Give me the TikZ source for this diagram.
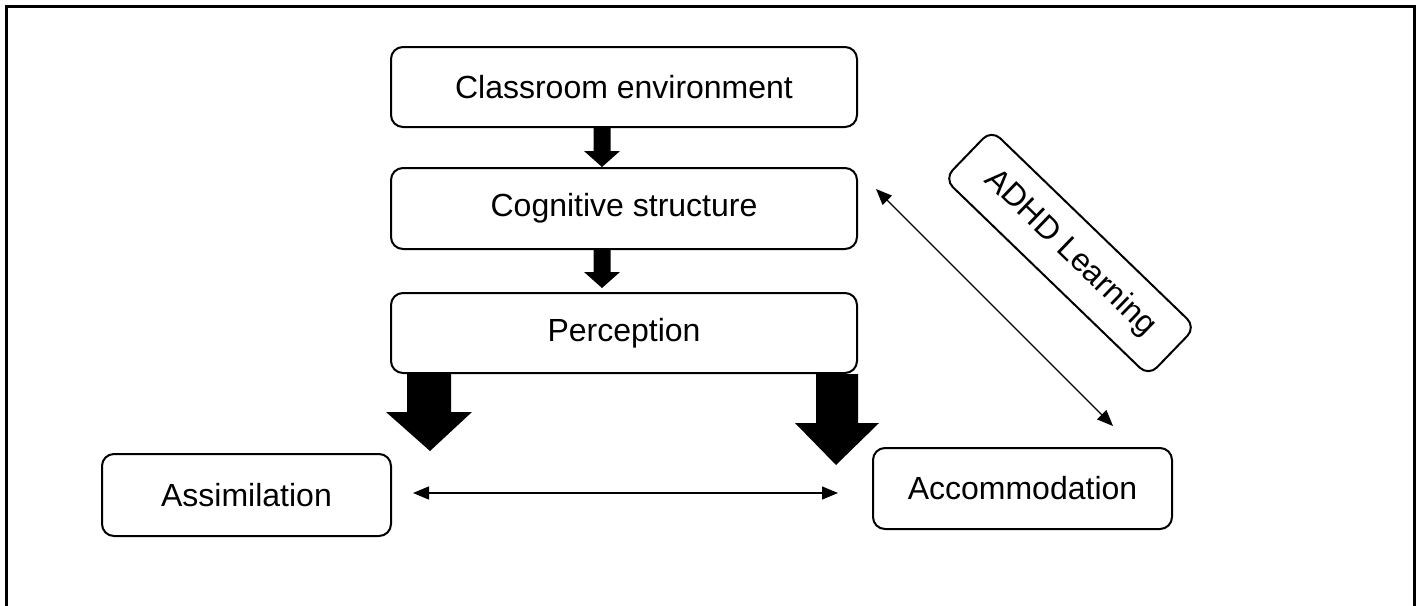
\documentclass[tikz,border=0pt]{standalone}
\usepackage{fontspec}
\setmainfont{Liberation Sans}
\usetikzlibrary{arrows.meta,calc}

% Filled block arrow: #1 start (middle of the shaft top), #2 tip,
% #3 half shaft width, #4 half head width, #5 head length
\newcommand\blockarrow[5]{%
  \fill let \p1=(#1), \p2=(#2) in
    (\x1-#3,\y1) -- (\x1+#3,\y1) -- (\x1+#3,\y2+#5) -- (\x1+#4,\y2+#5)
    -- (\x2,\y2) -- (\x1-#4,\y2+#5) -- (\x1-#3,\y2+#5) -- cycle;}

\tikzset{
  stagebox/.style={draw, line width=2pt, rounded corners=12pt, fill=white,
    align=center, font=\fontsize{32}{38}\selectfont, inner sep=0pt},
  linkarrow/.style={line width=1.2pt, {Triangle[length=16pt,width=13pt]}-{Triangle[length=16pt,width=13pt]}},
}

\begin{document}
\begin{tikzpicture}[x=1pt,y=-1pt]
  \useasboundingbox (0,0) rectangle (1421,605);
  % open frame
  \draw[line width=3pt] (6.5,620) -- (6.5,6.5) -- (1414.5,6.5) -- (1414.5,620);

  % stages
  \node[stagebox, minimum width=466pt, minimum height=80pt] (cls) at (624,87) {Classroom environment};
  \node[stagebox, minimum width=466pt, minimum height=81pt] (cog) at (624,208.5) {Cognitive structure};
  \node[stagebox, minimum width=466pt, minimum height=80pt] (per) at (624,333) {Perception};
  \node[stagebox, minimum width=289pt, minimum height=82pt] (asm) at (246.5,495) {Assimilation};
  \node[stagebox, minimum width=299pt, minimum height=81pt] (acc) at (1022.5,488.5) {Accommodation};
  \node[stagebox, minimum width=284pt, minimum height=68pt, rotate=-44] (adhd) at (1070,253) {ADHD Learning};

  % small block arrows down the column
  \coordinate (a1s) at ([xshift=-22pt]cls.south);
  \coordinate (a1t) at ([xshift=-22pt]cog.north);
  \blockarrow{a1s}{a1t}{8.5pt}{18pt}{16pt}
  \coordinate (a2s) at ([xshift=-22pt]cog.south);
  \coordinate (a2t) at ([xshift=-22pt,yshift=4pt]per.north);
  \blockarrow{a2s}{a2t}{8.5pt}{18pt}{16pt}

  % large block arrows out of Perception
  \coordinate (b1s) at ([xshift=39pt]per.south west);
  \coordinate (b1t) at (430,451);
  \blockarrow{b1s}{b1t}{22pt}{43pt}{39pt}
  \coordinate (b2s) at ([xshift=-21pt]per.south east);
  \coordinate (b2t) at (836,465);
  \blockarrow{b2s}{b2t}{21pt}{42pt}{42pt}

  % two-way links
  \draw[linkarrow] ([xshift=21pt,yshift=2pt]asm.east) -- ([xshift=-34pt,yshift=-4.5pt]acc.west);
  \draw[linkarrow] ([shift={(18,-19.5)}]cog.east) -- ([shift={(90.5,-21)}]acc.north);
\end{tikzpicture}
\end{document}
